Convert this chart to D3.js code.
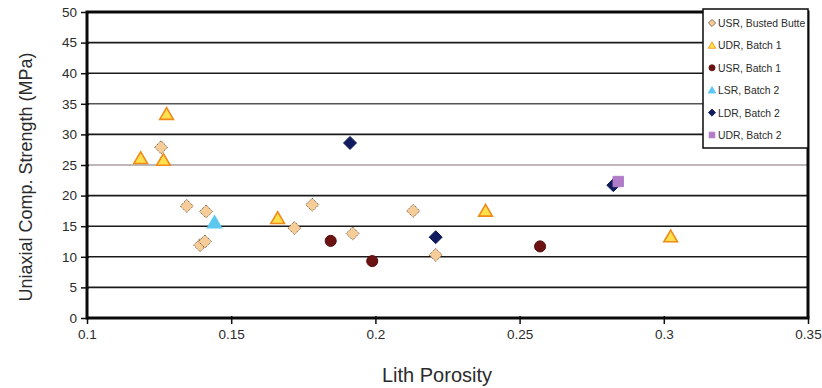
<!DOCTYPE html>
<html>
<head>
<meta charset="utf-8">
<script src="https://cdn.jsdelivr.net/npm/d3@7/dist/d3.min.js"></script>
<style>
  body { margin: 0; background: #fff; }
  text { font-family: "Liberation Sans", Arial, sans-serif; fill: #2b2b2b; }
</style>
</head>
<body>
<svg id="chart" width="822" height="388"></svg>
<script>
// series: [lith porosity, UCS MPa]
const usrBustedButte = [[0.1257, 27.9], [0.1346, 18.3], [0.1413, 17.4], [0.1392, 11.9], [0.1409, 12.5],
	[0.1719, 14.7], [0.1781, 18.5], [0.1921, 13.8], [0.2131, 17.5], [0.2209, 10.3]];
const udrBatch1 = [[0.1276, 33.3], [0.1186, 26.1], [0.1265, 25.8], [0.1661, 16.3], [0.2382, 17.5], [0.3024, 13.3]];
const usrBatch1 = [[0.1845, 12.6], [0.1989, 9.3], [0.2571, 11.7]];
const lsrBatch2 = [[0.1442, 15.6]];
const ldrBatch2 = [[0.1912, 28.6], [0.2209, 13.2], [0.2825, 21.7]];
const udrBatch2 = [[0.2842, 22.3]];

const seriesNames = ['USR, Busted Butte', 'UDR, Batch 1', 'USR, Batch 1', 'LSR, Batch 2', 'LDR, Batch 2', 'UDR, Batch 2'];
const xTicks = [0.1, 0.15, 0.2, 0.25, 0.3, 0.35];
const yTicks = [0, 5, 10, 15, 20, 25, 30, 35, 40, 45, 50];

const series = [
	{ name: seriesNames[0], data: usrBustedButte, shape: 'diamond', fill: '#f6cd98', stroke: '#6e5236', dash: '1.2,1' },
	{ name: seriesNames[1], data: udrBatch1, shape: 'triangle', fill: '#ffe14d', stroke: '#f08a1a' },
	{ name: seriesNames[2], data: usrBatch1, shape: 'circle', fill: '#6b1212', stroke: '#5a0c0c' },
	{ name: seriesNames[3], data: lsrBatch2, shape: 'triangle', fill: '#5cc8f0', stroke: '#5cc8f0' },
	{ name: seriesNames[4], data: ldrBatch2, shape: 'diamond', fill: '#101c5e', stroke: '#101c5e' },
	{ name: seriesNames[5], data: udrBatch2, shape: 'square', fill: '#b07cc8', stroke: '#b07cc8' },
];

const margin = { left: 87, right: 14, top: 12, bottom: 70 };
const width = 822, height = 388;

const svg = d3.select('#chart');

const x = d3.scaleLinear().domain([0.1, 0.35]).range([margin.left, width - margin.right]);
const y = d3.scaleLinear().domain([0, 50]).range([height - margin.bottom, margin.top]);

// horizontal grid, the 25 line is the lighter one in the original
svg.append('g')
	.selectAll('line')
	.data(yTicks.slice(1, -1))
	.join('line')
	.attr('x1', x(0.1))
	.attr('x2', x(0.35))
	.attr('y1', d => y(d))
	.attr('y2', d => y(d))
	.attr('stroke', d => d === 25 ? '#a8a0a0' : (d === 35 ? '#555' : '#1a1a1a'))
	.attr('stroke-width', 1.6);

// axes
const yAxis = svg.append('g')
	.attr('transform', `translate(${x(0.1)},0)`)
	.call(d3.axisLeft(y).tickValues(yTicks).tickSize(6).tickPadding(4));
const xAxis = svg.append('g')
	.attr('transform', `translate(0,${y(0)})`)
	.call(d3.axisBottom(x).tickValues(xTicks).tickSize(6).tickPadding(5).tickFormat(d3.format('')));

[yAxis, xAxis].forEach(a => {
	a.select('.domain').remove();
	a.selectAll('line').attr('stroke', '#111').attr('stroke-width', 1.5);
	a.selectAll('text').style('font-size', '13.5px').attr('fill', '#2b2b2b');
});
xAxis.selectAll('line').attr('y1', -2);
yAxis.selectAll('line').attr('x1', 2);

// plot frame
svg.append('rect')
	.attr('x', x(0.1))
	.attr('y', y(50))
	.attr('width', x(0.35) - x(0.1))
	.attr('height', y(0) - y(50))
	.attr('fill', 'none')
	.attr('stroke', '#0a0a0a')
	.attr('stroke-width', 3);

function markerPath (shape, s) {
	if (shape === 'diamond') return `M0,${-s}L${s},0L0,${s}L${-s},0Z`;
	if (shape === 'triangle') return `M0,${-s}L${s * 1.05},${s * 0.8}L${-s * 1.05},${s * 0.8}Z`;
	if (shape === 'square') return `M${-s * 0.8},${-s * 0.8}h${s * 1.6}v${s * 1.6}h${-s * 1.6}Z`;
	return d3.arc()({ innerRadius: 0, outerRadius: s * 0.85, startAngle: 0, endAngle: 2 * Math.PI });
}

const marks = svg.append('g');
series.forEach(sr => {
	marks.append('g')
		.selectAll('path')
		.data(sr.data)
		.join('path')
		.attr('transform', d => `translate(${x(d[0])},${y(d[1])})`)
		.attr('d', markerPath(sr.shape, 6.5))
		.attr('fill', sr.fill)
		.attr('stroke', sr.stroke)
		.attr('stroke-width', sr.shape === 'triangle' ? 1.6 : 1)
		.attr('stroke-dasharray', sr.dash || null);
});

// legend
const legend = svg.append('g').attr('transform', 'translate(703,9)');
legend.append('rect')
	.attr('width', 105)
	.attr('height', 139)
	.attr('fill', '#fff')
	.attr('stroke', '#0a0a0a')
	.attr('stroke-width', 1.5);
const items = legend.selectAll('g')
	.data(series)
	.join('g')
	.attr('transform', (_, i) => `translate(0,${14 + i * 22.4})`);
items.append('path')
	.attr('transform', 'translate(9,0)')
	.attr('d', d => markerPath(d.shape, 3.6))
	.attr('fill', d => d.fill)
	.attr('stroke', d => d.stroke)
	.attr('stroke-width', 0.8);
items.append('text')
	.attr('x', 15)
	.attr('y', 4)
	.style('font-size', '10.4px')
	.text(d => d.name);

// axis titles
svg.append('text')
	.attr('x', 437)
	.attr('y', 382)
	.attr('text-anchor', 'middle')
	.style('font-size', '20px')
	.text('Lith Porosity');
svg.append('text')
	.attr('transform', 'translate(32,177) rotate(-90)')
	.attr('text-anchor', 'middle')
	.style('font-size', '18px')
	.text('Uniaxial Comp. Strength (MPa)');
</script>
</body>
</html>
